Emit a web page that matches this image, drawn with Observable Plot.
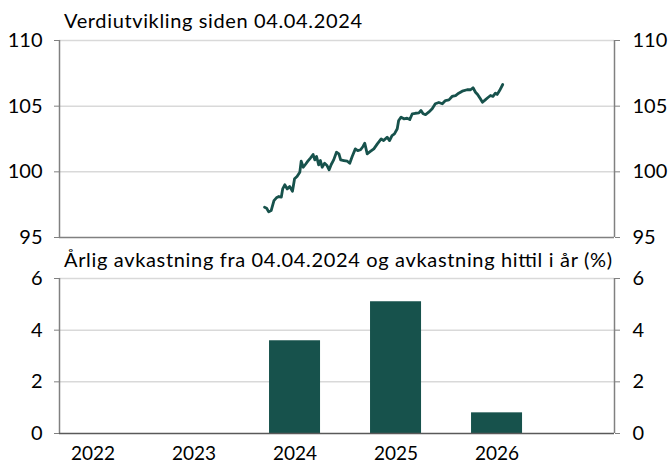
<!DOCTYPE html>
<html>
<head>
<meta charset="utf-8">
<script src="https://cdn.jsdelivr.net/npm/d3@7"></script>
<script src="https://cdn.jsdelivr.net/npm/@observablehq/plot@0.6"></script>
<style>
  html, body { margin: 0; padding: 0; background: #fff; }
  #wrap { position: relative; width: 668px; height: 464px; overflow: hidden; font-family: Lato, "Open Sans", sans-serif; color: #000; }
  #top, #bot, #titles { position: absolute; left: 0; }
  #top { top: 0; }
  #bot { top: 250px; }
  #titles { top: 0; pointer-events: none; }
  svg { overflow: visible; }
</style>
</head>
<body>
<div id="wrap">
  <div id="top"></div>
  <div id="bot"></div>
  <svg id="titles" width="668" height="464" xmlns="http://www.w3.org/2000/svg"></svg>
</div>
<script>
// ---- Titles ----
const titleTop = "Verdiutvikling siden 04.04.2024";
const titleBottom = "Årlig avkastning fra 04.04.2024 og avkastning hittil i år (%)";

// ---- Top panel: value development since 04.04.2024 (index) ----
const lineDates = [
  "2024-04-04","2024-04-10","2024-04-16","2024-04-23","2024-05-01","2024-05-08","2024-05-15","2024-05-22",
  "2024-05-26","2024-06-01","2024-06-08","2024-06-15","2024-06-23","2024-06-29","2024-07-06","2024-07-14",
  "2024-07-18","2024-07-24","2024-07-30","2024-08-06","2024-08-14","2024-08-21","2024-08-26","2024-08-31",
  "2024-09-06","2024-09-11","2024-09-16","2024-09-23","2024-09-30","2024-10-06","2024-10-12","2024-10-19",
  "2024-10-27","2024-11-03","2024-11-08","2024-11-17","2024-11-27","2024-12-04","2024-12-11","2024-12-20",
  "2024-12-27","2025-01-04","2025-01-11","2025-01-16","2025-01-23","2025-02-01","2025-02-11","2025-02-21",
  "2025-03-04","2025-03-11","2025-03-21","2025-03-28","2025-04-04","2025-04-11","2025-04-19","2025-04-23",
  "2025-04-30","2025-05-08","2025-05-17","2025-05-25","2025-06-01","2025-06-10","2025-06-20","2025-06-26",
  "2025-07-02","2025-07-09","2025-07-18","2025-07-28","2025-08-06","2025-08-16","2025-08-26","2025-09-04",
  "2025-09-14","2025-09-23","2025-10-03","2025-10-12","2025-10-22","2025-11-05","2025-11-15","2025-11-22",
  "2025-11-29","2025-12-05","2025-12-13","2025-12-19","2025-12-27","2026-01-03","2026-01-11","2026-01-18",
  "2026-01-25","2026-01-30","2026-02-06","2026-02-15"
];
const lineValues = [
  97.30, 97.23, 96.95, 97.05, 97.81, 98.02, 98.12, 98.07,
  98.70, 99.01, 98.70, 98.88, 98.52, 99.47, 99.64, 99.97,
  100.81, 100.35, 100.56, 100.81, 101.07, 101.32, 100.91, 101.17,
  100.53, 100.86, 100.35, 100.65, 100.48, 100.15, 100.56, 100.91,
  101.49, 101.37, 100.91, 100.86, 100.81, 100.65, 101.17, 101.75,
  101.62, 101.68, 101.93, 102.18, 101.37, 101.55, 101.75, 102.13,
  102.51, 102.38, 102.64, 102.38, 102.76, 102.89, 103.28, 103.91,
  104.16, 104.04, 104.08, 103.98, 104.42, 104.46, 104.49, 104.67,
  104.42, 104.36, 104.54, 104.80, 105.18, 105.28, 105.18, 105.43,
  105.48, 105.74, 105.81, 105.99, 106.14, 106.25, 106.25, 106.40,
  106.06, 105.89, 105.56, 105.30, 105.48, 105.64, 105.81, 105.74,
  105.99, 105.89, 106.19, 106.65
];
const topTicks = [95, 100, 105, 110];
const topDomainX = ["2022-08-26", "2027-01-01"];

// ---- Bottom panel: annual return (%) ----
const barYears = [2024, 2025, 2026];
const barValues = [3.59, 5.10, 0.80];
const yearTicks = [2022, 2023, 2024, 2025, 2026];
const yearLabels = ["2022", "2023", "2024", "2025", "2026"];
const bottomTicks = [0, 2, 4, 6];

const GREEN = "#17524c";
const GRID = "#d9d9d9";
const AXIS = "#808080";
const FONT = "Lato, 'Open Sans', sans-serif";

const lineData = lineDates.map((d, i) => ({date: new Date(d), value: lineValues[i]}));
const xDom = topDomainX.map(d => new Date(d));

const topPlot = Plot.plot({
  width: 668, height: 250,
  marginLeft: 59, marginRight: 54, marginTop: 40, marginBottom: 13,
  style: {fontSize: "20px", fontFamily: FONT, background: "transparent", overflow: "visible"},
  x: {type: "utc", domain: xDom, axis: null},
  y: {domain: [95, 110]},
  marks: [
    Plot.gridY(topTicks.filter(t => t !== 95), {stroke: GRID, strokeOpacity: 1, strokeWidth: 1.5}),
    Plot.ruleY([95], {stroke: AXIS, strokeWidth: 1.5}),
    Plot.ruleX(xDom, {stroke: AXIS, strokeWidth: 1.5}),
    Plot.axisY({anchor: "left", ticks: topTicks, tickSize: 5, tickPadding: 12, stroke: AXIS, fill: "#000", label: null, fontSize: 20}),
    Plot.axisY({anchor: "right", ticks: topTicks, tickSize: 5, tickPadding: 13, stroke: AXIS, fill: "#000", label: null, fontSize: 20}),
    Plot.lineY(lineData, {x: "date", y: "value", stroke: GREEN, strokeWidth: 2.8, strokeLinejoin: "round"})
  ]
});
document.getElementById("top").appendChild(topPlot);

const barData = barYears.map((y, i) => ({year: y, value: barValues[i]}));
const xBot = [2021.668, 2027.163];
const halfW = 0.2525;

const botPlot = Plot.plot({
  width: 668, height: 214,
  marginLeft: 59, marginRight: 54, marginTop: 28, marginBottom: 31,
  style: {fontSize: "20px", fontFamily: FONT, background: "transparent", overflow: "visible"},
  x: {domain: xBot, axis: null},
  y: {domain: [0, 6]},
  marks: [
    Plot.gridY(bottomTicks.filter(t => t !== 0), {stroke: GRID, strokeOpacity: 1, strokeWidth: 1.5}),
    Plot.rectY(barData, {x1: d => d.year - halfW, x2: d => d.year + halfW, y1: 0, y2: "value", fill: GREEN}),
    Plot.ruleX(xBot, {y1: 0, y2: 6, stroke: AXIS, strokeWidth: 1.5}),
    Plot.ruleY([0], {stroke: "#595959", strokeWidth: 1.5}),
    Plot.axisY({anchor: "left", ticks: bottomTicks, tickFormat: d => String(d), tickSize: 5, tickPadding: 12, stroke: AXIS, fill: "#000", label: null, fontSize: 20}),
    Plot.axisY({anchor: "right", ticks: bottomTicks, tickFormat: d => String(d), tickSize: 5, tickPadding: 13, stroke: AXIS, fill: "#000", label: null, fontSize: 20}),
    Plot.axisX({ticks: yearTicks, tickFormat: d => yearLabels[yearTicks.indexOf(d)], tickSize: 0, tickPadding: 13, fill: "#000", label: null, fontSize: 19})
  ]
});
document.getElementById("bot").appendChild(botPlot);

// Titles as SVG text
const tsvg = d3.select("#titles");
[[titleTop, 28, 298], [titleBottom, 267, 548]].forEach(([txt, y, len]) => {
  tsvg.append("text")
    .attr("x", 64).attr("y", y)
    .attr("font-family", FONT).attr("font-size", 20)
    .attr("textLength", len).attr("lengthAdjust", "spacing")
    .attr("fill", "#000")
    .text(txt);
});
</script>
</body>
</html>
